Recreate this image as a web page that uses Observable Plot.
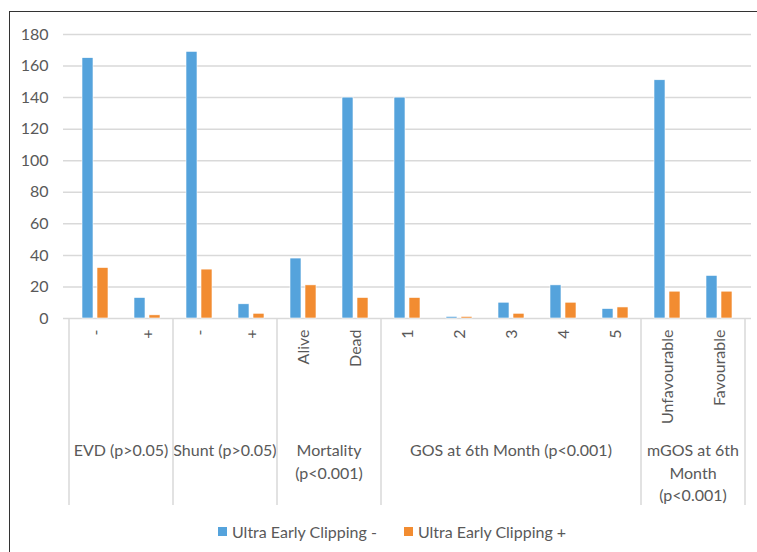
<!DOCTYPE html>
<html>
<head>
<meta charset="utf-8">
<script src="https://cdn.jsdelivr.net/npm/d3@7"></script>
<script src="https://cdn.jsdelivr.net/npm/@observablehq/plot@0.6"></script>
<style>
  html, body { margin: 0; padding: 0; background: #fff; overflow: hidden; }
  body { width: 757px; height: 552px; position: relative; font-family: Lato, sans-serif; }
  #frame { position: absolute; left: 9px; top: 11px; width: 800px; height: 600px; border: 1.5px solid #333; box-sizing: border-box; }
  #chart { position: absolute; left: 0; top: 0; }
  #legend { position: absolute; left: 218px; top: 522px; display: flex; align-items: center; font-size: 16px; color: #595959; white-space: nowrap; }
  #legend .sw { display: inline-block; width: 9px; height: 9px; margin-right: 5px; }
  #legend .item { display: flex; align-items: center; margin-right: 27px; }
</style>
</head>
<body>
<div id="frame"></div>
<div id="chart"></div>
<div id="legend"></div>
<script>
// ---- data ----
const groupLines = [
  ["EVD (p>0.05)"],
  ["Shunt (p>0.05)"],
  ["Mortality", "(p<0.001)"],
  ["GOS at 6th Month (p<0.001)"],
  ["mGOS at 6th", "Month", "(p<0.001)"]
];
const subLabels = [
  ["-", "+"],
  ["-", "+"],
  ["Alive", "Dead"],
  ["1", "2", "3", "4", "5"],
  ["Unfavourable", "Favourable"]
];
const seriesNames = ["Ultra Early Clipping -", "Ultra Early Clipping +"];
const clippingNeg = [165, 13, 169, 9, 38, 140, 140, 1, 10, 21, 6, 151, 27];
const clippingPos = [32, 2, 31, 3, 21, 13, 13, 1, 3, 10, 7, 17, 17];
const yTicks = [0, 20, 40, 60, 80, 100, 120, 140, 160, 180];
const colors = ["#55a3dc", "#f28c31"];

// ---- build table ----
const rows = [];
const labelOf = {};
const groupKeys = [];
subLabels.forEach((subs, gi) => {
  const ks = [];
  subs.forEach(s => {
    const key = gi + ":" + s;
    labelOf[key] = s;
    ks.push(key);
  });
  groupKeys.push(ks);
});
const keys = groupKeys.flat();
keys.forEach((k, i) => rows.push({key: k, neg: clippingNeg[i], pos: clippingPos[i]}));

const chart = Plot.plot({
  width: 757,
  height: 512,
  marginLeft: 63,
  marginRight: 6,
  marginTop: 34,
  marginBottom: 194,
  style: {fontFamily: "Lato, sans-serif", fontSize: "16px", color: "#595959", background: "transparent", overflow: "visible"},
  x: {domain: keys, padding: 0, label: null, tickSize: 0, tickPadding: 11, tickRotate: -90, tickFormat: k => labelOf[k]},
  y: {domain: [0, 180], ticks: yTicks, label: null, tickSize: 0, tickPadding: 15},
  marks: [
    Plot.gridY(yTicks, {stroke: "#d9d9d9", strokeOpacity: 1, strokeWidth: 1.5}),
    Plot.barY(rows, {x: "key", y: "neg", fill: colors[0], insetLeft: 20.5, insetRight: 20.5, dx: -7.5, stroke: "#fff", strokeWidth: 0.6}),
    Plot.barY(rows, {x: "key", y: "pos", fill: colors[1], insetLeft: 20.5, insetRight: 20.5, dx: 7.5, stroke: "#fff", strokeWidth: 0.6})
  ]
});
document.getElementById("chart").appendChild(chart);

// ---- hierarchical category axis (group separators and labels) ----
const xs = chart.scale("x");
const ys = chart.scale("y");
const y0 = ys.apply(0);
const sepBottom = 505;
const svg = d3.select(chart);
const g = svg.append("g");
const bounds = [];
groupKeys.forEach((ks, gi) => {
  const start = xs.apply(ks[0]);
  const end = xs.apply(ks[ks.length - 1]) + xs.bandwidth;
  if (gi === 0) bounds.push(start);
  bounds.push(end);
  const cx = (start + end) / 2;
  groupLines[gi].forEach((line, li) => {
    g.append("text")
      .attr("x", cx)
      .attr("y", 452 + li * 22.5)
      .attr("text-anchor", "middle")
      .attr("dominant-baseline", "middle")
      .attr("fill", "#595959")
      .attr("font-family", "Lato, sans-serif")
      .attr("font-size", 16)
      .text(line);
  });
});
bounds.forEach(b => {
  g.append("line")
    .attr("x1", b).attr("x2", b)
    .attr("y1", y0).attr("y2", sepBottom)
    .attr("stroke", "#d9d9d9").attr("stroke-width", 1.5);
});

// ---- legend ----
const legend = document.getElementById("legend");
seriesNames.forEach((n, i) => {
  const it = document.createElement("div");
  it.className = "item";
  const sw = document.createElement("span");
  sw.className = "sw";
  sw.style.background = colors[i];
  it.appendChild(sw);
  it.appendChild(document.createTextNode(n));
  legend.appendChild(it);
});
</script>
</body>
</html>
